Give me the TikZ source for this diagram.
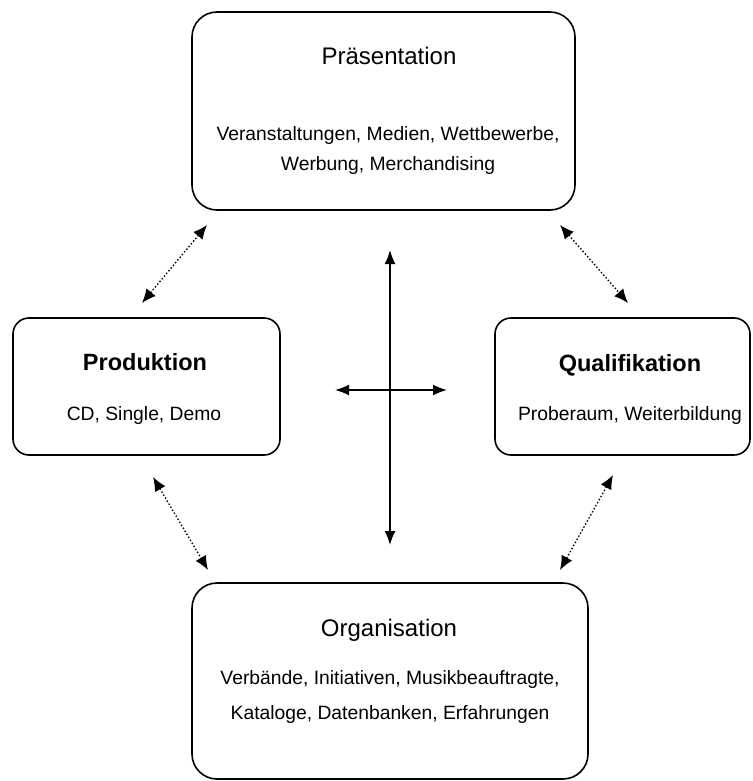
\documentclass[tikz,border=0pt]{standalone}
\usepackage{fontspec}
\setmainfont{Liberation Sans}
\usetikzlibrary{arrows.meta}

\begin{document}
\begin{tikzpicture}[
  x=1pt, y=-1pt,
  box/.style={draw, line width=1.6pt, rounded corners=#1, inner sep=0pt},
  box/.default=25pt,
  head/.style={anchor=base, font=\fontsize{24}{28}\selectfont},
  body/.style={anchor=base, font=\fontsize{19.3}{23}\selectfont},
  link/.style={{Latex[length=14pt,width=12pt]}-{Latex[length=14pt,width=12pt]},
    line width=1.3pt, dash pattern=on 1.5pt off 2pt},
  axis/.style={{Latex[length=14pt,width=11pt]}-{Latex[length=14pt,width=11pt]},
    line width=1.6pt},
]
\useasboundingbox (0,0) rectangle (752,781);

% boxes
\node[box, minimum width=383pt, minimum height=198pt] (pres) at (383.5,111) {};
\node[box=16pt, minimum width=267pt, minimum height=137pt] (prod) at (146.5,386.5) {};
\node[box=16pt, minimum width=255pt, minimum height=137pt] (qual) at (622.5,386.5) {};
\node[box, minimum width=396pt, minimum height=196pt] (orga) at (390,681) {};

% texts
\node[head] (presT) at (389,65) {Präsentation};
\node[body] (presA) at (388,140) {Veranstaltungen, Medien, Wettbewerbe,};
\node[body] (presB) at (388,170) {Werbung, Merchandising};

\node[head, font=\fontsize{23.5}{28}\selectfont\bfseries] (prodT) at (145,370) {Produktion};
\node[body] (prodA) at (144,420) {CD, Single, Demo};

\node[head, font=\fontsize{23.5}{28}\selectfont\bfseries] (qualT) at (630,371) {Qualifikation};
\node[body] (qualA) at (630,420) {Proberaum, Weiterbildung};

\node[head] (orgaT) at (389,636) {Organisation};
\node[body] (orgaA) at (390,684) {Verbände, Initiativen, Musikbeauftragte,};
\node[body] (orgaB) at (390,719) {Kataloge, Datenbanken, Erfahrungen};

% connector ends
\coordinate (pl1) at (142,303);
\coordinate (pl2) at (207,225);
\coordinate (pr1) at (628,303);
\coordinate (pr2) at (560,225);
\coordinate (ol1) at (153,477);
\coordinate (ol2) at (208,570);
\coordinate (or1) at (613,475);
\coordinate (or2) at (560,570);
\coordinate (vT) at (390,250);
\coordinate (vB) at (390,545);
\coordinate (hL) at (335,390);
\coordinate (hR) at (447,390);

\draw[link] (pl1) -- (pl2);
\draw[link] (pr2) -- (pr1);
\draw[link] (ol1) -- (ol2);
\draw[link] (or1) -- (or2);
\draw[axis] (vT) -- (vB);
\draw[axis] (hL) -- (hR);
\end{tikzpicture}
\end{document}
